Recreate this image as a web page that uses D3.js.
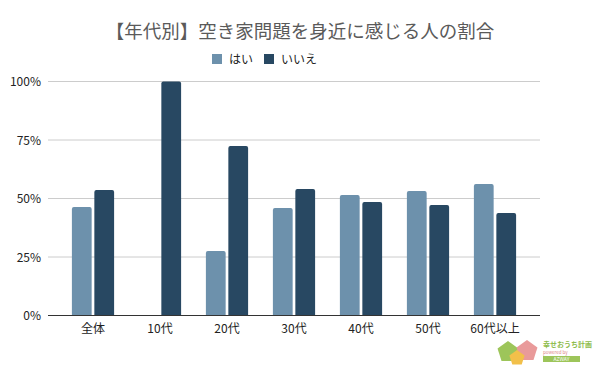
<!DOCTYPE html>
<html>
<head>
<meta charset="utf-8">
<script src="https://cdn.jsdelivr.net/npm/d3@7"></script>
<style>
  body { margin: 0; background: #fff; }
  text { font-family: "Noto Sans CJK JP", "Noto Sans", sans-serif; }
</style>
</head>
<body>
<svg id="chart"></svg>
<script>
// data
const categories = ["全体", "10代", "20代", "30代", "40代", "50代", "60代以上"];
const seriesNames = ["はい", "いいえ"];
const yesValues = [46.4, 0, 27.6, 45.9, 51.5, 53.2, 56.2];
const noValues = [53.6, 100, 72.4, 54.1, 48.5, 47.2, 43.8];
const yTicks = [0, 25, 50, 75, 100];

const colors = ["#6d91ac", "#284862"];

const width = 600;
const height = 371;

const svg = d3.select('svg#chart').attr('width', width).attr('height', height);

// scales
const x = d3.scaleBand().domain(categories).range([59.5, 528.5]).paddingInner(0.37).paddingOuter(0.185);
const xSub = d3.scaleBand().domain(seriesNames).range([0, x.bandwidth()]).paddingInner(0.12);
const y = d3.scaleLinear().domain([0, 100]).range([315.5, 81.5]);

const plotLeft = 48, plotRight = 540;

// title
svg.append('text')
  .attr('x', 300).attr('y', 38)
  .attr('text-anchor', 'middle')
  .style('font-size', '18.5px')
  .attr('fill', '#5a5a5a')
  .text('【年代別】空き家問題を身近に感じる人の割合');

// legend
const legend = svg.append('g');
const legendItems = [{name: seriesNames[0], x: 212}, {name: seriesNames[1], x: 264}];
legendItems.forEach((d, i) => {
  legend.append('rect').attr('x', d.x).attr('y', 54).attr('width', 10).attr('height', 10)
    .attr('fill', colors[i]);
  legend.append('text').attr('x', d.x + 17).attr('y', 63.5)
    .style('font-size', '12px').attr('fill', '#222')
    .text(d.name);
});

// grid lines + y labels
svg.append('g').selectAll('line').data(yTicks.filter(t => t > 0)).enter().append('line')
  .attr('x1', plotLeft).attr('x2', plotRight)
  .attr('y1', d => y(d)).attr('y2', d => y(d))
  .attr('stroke', '#cccccc').attr('stroke-width', 1);

svg.append('g').selectAll('text').data(yTicks).enter().append('text')
  .attr('x', 41).attr('y', d => y(d) + 4.5)
  .attr('text-anchor', 'end')
  .style('font-size', '12px').attr('fill', '#222')
  .text(d => d + '%');

// bars
const groups = svg.append('g').selectAll('g').data(categories).enter().append('g')
  .attr('transform', d => 'translate(' + x(d) + ',0)');

function barPath(x0, w, yTop, yBase, r) {
  const h = yBase - yTop;
  if (h <= 0) return '';
  r = Math.min(r, h, w / 2);
  return 'M' + x0 + ',' + yBase +
    'V' + (yTop + r) +
    'Q' + x0 + ',' + yTop + ' ' + (x0 + r) + ',' + yTop +
    'H' + (x0 + w - r) +
    'Q' + (x0 + w) + ',' + yTop + ' ' + (x0 + w) + ',' + (yTop + r) +
    'V' + yBase + 'Z';
}

groups.each(function(cat, i) {
  const vals = [yesValues[i], noValues[i]];
  d3.select(this).selectAll('path').data(vals).enter().append('path')
    .attr('d', (v, j) => barPath(xSub(seriesNames[j]), xSub.bandwidth(), y(v), y(0), 2))
    .attr('fill', (v, j) => colors[j]);
});

// baseline
svg.append('line')
  .attr('x1', plotLeft).attr('x2', plotRight)
  .attr('y1', y(0)).attr('y2', y(0))
  .attr('stroke', '#333').attr('stroke-width', 1.2);

// x labels
svg.append('g').selectAll('text').data(categories).enter().append('text')
  .attr('x', d => x(d) + x.bandwidth() / 2)
  .attr('y', 333)
  .attr('text-anchor', 'middle')
  .style('font-size', '12px').attr('fill', '#222')
  .text(d => d);

// logo (bottom right)
const logo = svg.append('g');
function pent(cx, cy, r) {
  const pts = d3.range(5).map(k => {
    const a = -Math.PI / 2 + k * 2 * Math.PI / 5;
    return [cx + r * Math.cos(a), cy + r * Math.sin(a)];
  });
  return 'M' + pts.join('L') + 'Z';
}
logo.append('path').attr('d', pent(508, 352, 11)).attr('fill', '#9dc55a');
logo.append('path').attr('d', pent(527, 351, 11)).attr('fill', '#e99a9a');
logo.append('path').attr('d', pent(517, 358, 8)).attr('fill', '#f2c04a');
logo.append('text').attr('x', 543).attr('y', 347)
  .style('font-size', '7px').style('font-weight', 'bold').attr('fill', '#8dbb4a')
  .text('幸せおうち計画');
logo.append('text').attr('x', 543).attr('y', 354)
  .style('font-size', '4.5px').attr('fill', '#e08a8a')
  .text('powered by');
logo.append('rect').attr('x', 543).attr('y', 356).attr('width', 37).attr('height', 6).attr('fill', '#9dc55a');
logo.append('text').attr('x', 561.5).attr('y', 361)
  .attr('text-anchor', 'middle')
  .style('font-size', '5px').attr('fill', '#fff')
  .text('AZWAY');
</script>
</body>
</html>
